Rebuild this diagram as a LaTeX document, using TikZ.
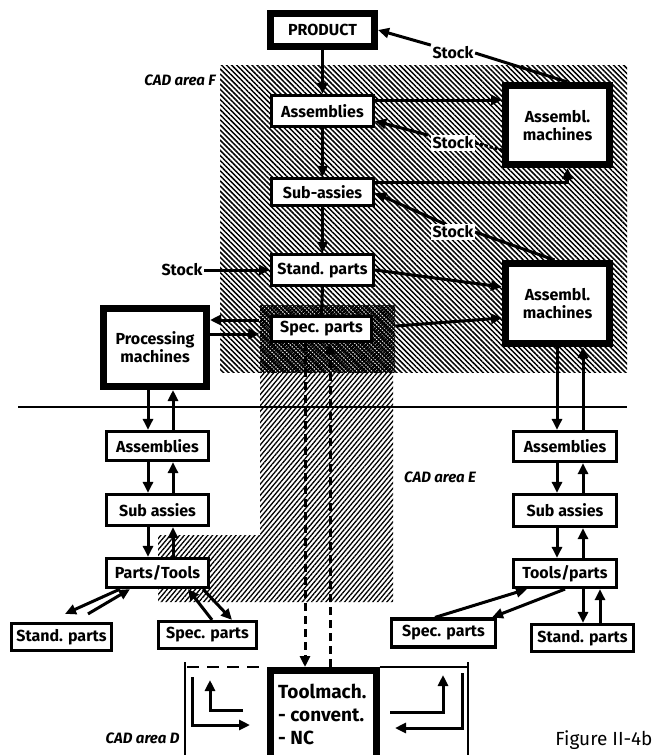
\documentclass[tikz,border=0pt]{standalone}
\usepackage{fontspec}
\setmainfont{Fira Sans}
\usetikzlibrary{arrows.meta,patterns.meta,calc}
\begin{document}
\begin{tikzpicture}[x=1pt,y=-1pt,
  box/.style={draw, line width=3.2pt, fill=white, inner sep=0pt, font=\bfseries\fontsize{16}{18}\selectfont, align=center},
  bigbox/.style={box, line width=7pt},
  lbl/.style={fill=white, inner sep=1.5pt, font=\bfseries\fontsize{16}{18}\selectfont},
  area/.style={font=\bfseries\itshape\fontsize{15}{17}\selectfont},
  arr/.style={line width=3pt, -{Triangle[length=11pt,width=10pt]}},
  ln/.style={line width=3pt},
  thin/.style={line width=1.3pt},
  darr/.style={arr, dash pattern=on 8pt off 5pt},
  hatchF/.style={pattern={Lines[angle=-45,distance=3.6pt,line width=1.5pt]}},
  hatchE/.style={pattern={Lines[angle=50,distance=3.6pt,line width=1.3pt]}},
  hatchD/.style={pattern={Hatch[angle=45,distance=2.6pt,line width=1.1pt]}},
]
\useasboundingbox (0,0) rectangle (657,755);
\clip (0,0) rectangle (657,755);

% shaded CAD areas
\fill[hatchF] (220,65) rectangle (627,372);
\fill[hatchE] (260,372) -- (393,372) -- (393,602) -- (158,602) -- (158,535) -- (260,535) -- cycle;
\node[hatchD, minimum width=135pt, minimum height=67pt, inner sep=0pt] (specbg) at (327.5,338.5) {};

% area labels
\node[area] (areaF) at (180,80) {CAD area F};
\node[area] (areaE) at (440,477) {CAD area E};
\node[area, anchor=east] (areaD) at (183,738) {CAD area D};
\node[font=\fontsize{19}{21}\selectfont, anchor=east] (fig) at (656,740) {Figure II-4b};

% upper part (area F)
\node[bigbox, minimum width=104pt, minimum height=33pt] (product) at (322.5,30) {PRODUCT};
\node[box, minimum width=102pt, minimum height=31pt] (asmF) at (322.5,111) {Assemblies};
\node[box, minimum width=102pt, minimum height=27pt] (subF) at (322.5,192) {Sub-assies};
\node[box, minimum width=102pt, minimum height=31pt] (standF) at (322.5,270) {Stand. parts};
\node[box, minimum width=100pt, minimum height=25pt] (specF) at (321.5,329) {Spec. parts};
\node[bigbox, minimum width=104pt, minimum height=79pt, text depth=-10pt] (machA) at (557.5,125) {Assembl.\\machines};
\node[bigbox, minimum width=104pt, minimum height=80pt] (machB) at (557.5,303.5) {Assembl.\\machines};
\node[bigbox, minimum width=103pt, minimum height=78pt] (proc) at (155,347.5) {Processing\\machines};

\node[lbl] (stockTop) at (453,53) {Stock};
\node[lbl] (stockMid) at (453,143) {Stock};
\node[lbl] (stockLow) at (453,232) {Stock};
\node[lbl] (stockLeft) at (182,270) {Stock};

% lower left column
\node[box, minimum width=102pt, minimum height=29pt] (asmL) at (157.5,446) {Assemblies};
\node[box, minimum width=102pt, minimum height=31pt] (subL) at (157.5,510) {Sub assies};
\node[box, minimum width=102pt, minimum height=29pt] (ptL) at (157.5,573) {Parts/Tools};
\node[box, minimum width=100pt, minimum height=27pt] (standL) at (61.5,637) {Stand. parts};
\node[box, minimum width=98pt, minimum height=27pt] (specL) at (207.5,635) {Spec. parts};

% lower right column
\node[box, minimum width=103pt, minimum height=30pt] (asmR) at (565,446.5) {Assemblies};
\node[box, minimum width=103pt, minimum height=32pt] (subR) at (565,510.5) {Sub assies};
\node[box, minimum width=103pt, minimum height=28pt] (tpR) at (565,573.5) {Tools/parts};
\node[box, minimum width=104pt, minimum height=28pt] (specR) at (443.5,633) {Spec. parts};
\node[box, minimum width=102pt, minimum height=27pt] (standR) at (582.5,638) {Stand. parts};

% tool machines (area D)
\node[bigbox, minimum width=106pt, minimum height=110pt, anchor=north] (tool) at (323,667) {};
\node[anchor=north west, align=left, font=\bfseries\fontsize{19}{23}\selectfont, inner sep=0pt] (tooltxt) at (278,684) {Toolmach.\\- convent.\\- NC};

% horizontal divider
\coordinate (hl) at (18,407);
\coordinate (hr) at (627,407);
\draw[line width=2.8pt] (hl) -- (hr);

% connectors, upper part
\draw[arr] (stockTop.north west) -- (product.east);
\draw[ln] (stockTop.east) -- ([xshift=10pt]machA.north);
\draw[arr] (product.south) -- (asmF.north);
\draw[arr] (asmF.east |- 0,100) -- (machA.west |- 0,100);
\draw[arr] ([xshift=-3pt]stockMid.north west) -- (asmF.east |- 0,121);
\draw[ln, dash pattern=on 3pt off 2pt] (stockMid.east) -- (machA.west |- 0,150);
\draw[arr] (asmF.south) -- (subF.north);
\draw[arr] (subF.east |- 0,182) -| ([xshift=10pt]machA.south);
\draw[arr] ([xshift=-8pt]stockLow.north) -- (subF.east |- 0,193);
\draw[ln] (stockLow.east) -- ([xshift=-3pt]machB.north);
\draw[arr] (subF.south) -- (standF.north);
\draw[arr] (stockLeft.east) -- (standF.west);
\draw[arr] (standF.east) -- (machB.west |- 0,287);
\draw[ln] (standF.south) -- (specF.north);
\draw[arr] (specbg.east |- 0,326) -- (machB.west |- 0,318);
\draw[arr] (specbg.west |- 0,320) -- (proc.east |- 0,320);
\draw[arr] (proc.east |- 0,334) -- (specbg.west |- 0,334);

% dashed connectors to tool machines
\draw[darr] (specF.south -| 305,0) -- (tool.north -| 305,0);
\draw[darr] (tool.north -| 330,0) -- (specF.south -| 330,0);

% left column
\draw[arr] (proc.south -| 148,0) -- (asmL.north -| 148,0);
\draw[arr] (asmL.north -| 173,0) -- (proc.south -| 173,0);
\draw[arr] (asmL.south -| 148,0) -- (subL.north -| 148,0);
\draw[arr] (subL.north -| 173,0) -- (asmL.south -| 173,0);
\draw[arr] (subL.south -| 148,0) -- (ptL.north -| 148,0);
\draw[arr] (ptL.north -| 173,0) -- (subL.south -| 173,0);
\draw[arr] (ptL.south -| 120,0) -- ($(standL.north -| 65,0)+(0,-8)$);
\draw[arr] ($(standL.north -| 88,0)+(0,-8)$) -- (ptL.south -| 130,0);
\draw[arr] (specL.north -| 212,0) -- (ptL.south -| 188,0);
\draw[arr] (ptL.south -| 203,0) -- (specL.north -| 232,0);

% right column
\draw[arr] (machB.south -| 557,0) -- (asmR.north -| 557,0);
\draw[arr] (asmR.north -| 583,0) -- (machB.south -| 583,0);
\draw[arr] (asmR.south -| 557,0) -- (subR.north -| 557,0);
\draw[arr] (subR.north -| 583,0) -- (asmR.south -| 583,0);
\draw[arr] (subR.south -| 557,0) -- (tpR.north -| 557,0);
\draw[arr] (tpR.north -| 583,0) -- (subR.south -| 583,0);
\draw[arr] (tpR.south -| 583,0) -- (standR.north -| 583,0);
\draw[arr] (standR.north -| 600,0) -- (tpR.south -| 600,0);
\draw[arr] (specR.north -| 435,0) -- (tpR.south -| 527,0);
\draw[arr] (tpR.south -| 565,0) -- (specR.north -| 492,0);

% area D frame
\draw[thin] (185,662) -- (185,755);
\draw[thin] (468,662) -- (468,755);
\draw[thin, dash pattern=on 12pt off 8pt] (187,667) -- (tool.north west);
\draw[thin] (tool.north east) -- (468,667);

% flows in area D
\coordinate (l1a) at (192,677);
\coordinate (l1b) at (250,725);
\coordinate (l2a) at (243,710);
\coordinate (l2b) at (210,680);
\coordinate (r1a) at (390,712);
\coordinate (r1b) at (443,675);
\coordinate (r2a) at (462,673);
\coordinate (r2b) at (395,728);
\draw[arr] (l1a) |- (l1b);
\draw[arr] (l2a) -| (l2b);
\draw[arr] (r1a) -| (r1b);
\draw[arr] (r2a) |- (r2b);
\end{tikzpicture}
\end{document}
